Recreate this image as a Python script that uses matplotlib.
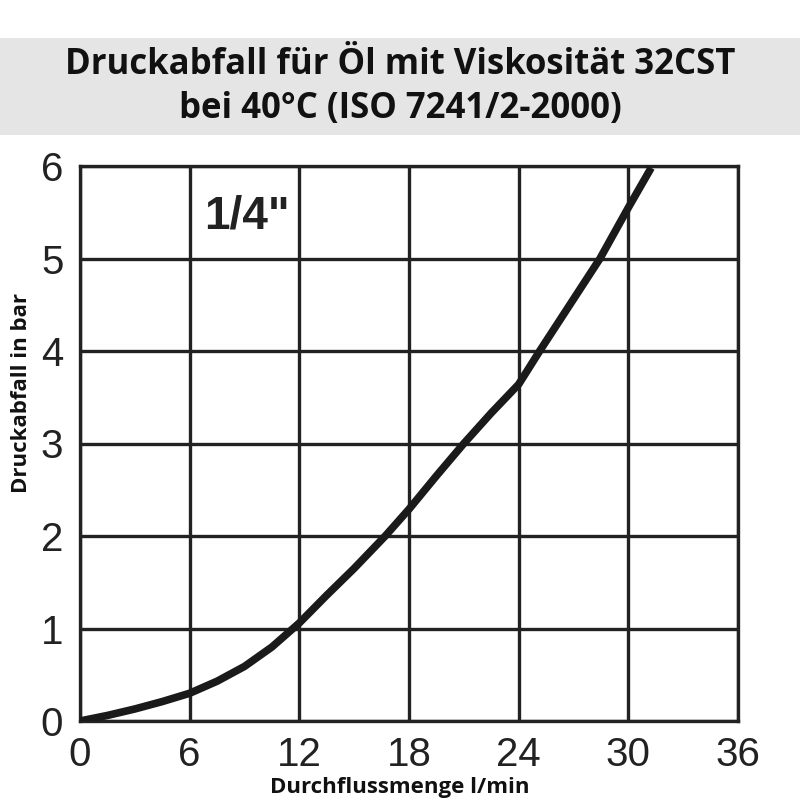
import matplotlib
matplotlib.use("Agg")
import matplotlib.pyplot as plt
from matplotlib.patches import Rectangle

flow = [0, 1.5, 3, 4.5, 6, 7.5, 9, 10.5, 12, 13.5, 15, 16.7, 18, 19.5, 21, 22.5, 24, 25.15, 26.8, 28.45, 30, 31.25]
pressure = [0, 0.06, 0.13, 0.21, 0.30, 0.43, 0.59, 0.80, 1.06, 1.36, 1.65, 2.0, 2.29, 2.65, 3.0, 3.33, 3.64, 4.0, 4.5, 5.0, 5.55, 5.98]
xticks = [0, 6, 12, 18, 24, 30, 36]
yticks = [0, 1, 2, 3, 4, 5, 6]
title_lines = "Druckabfall für Öl mit Viskosität 32CST\nbei 40°C (ISO 7241/2-2000)"
xlabel = "Durchflussmenge l/min"
ylabel = "Druckabfall in bar"
size_label = '1/4"'

fig = plt.figure(figsize=(8, 8), dpi=100)
fig.patches.append(Rectangle((0, 1 - 135/800), 1, (135-38)/800, transform=fig.transFigure,
                             facecolor="#e5e5e5", edgecolor="none", zorder=0))
fig.text(0.5, 1 - 87/800, title_lines, ha="center", va="center", family="Open Sans",
         fontweight="bold", fontsize=25, linespacing=1.28, color="#111111")

ax = fig.add_axes([80/800, 1 - 721/800, (738-80)/800, (721-166)/800])
ax.set_xlim(0, 36)
ax.set_ylim(0, 6)
ax.set_xticks(xticks)
ax.set_yticks(yticks)
ax.set_xticklabels([str(v) for v in xticks], family="Liberation Sans", fontsize=29, color="#222222")
ax.set_yticklabels([str(v) for v in yticks], family="Liberation Sans", fontsize=29, color="#222222")
ax.tick_params(axis="y", length=0, pad=12)
ax.tick_params(axis="x", length=0, pad=11)
ax.grid(True, color="#222222", linewidth=2.4)
ax.set_axisbelow(True)
for s in ax.spines.values():
    s.set_color("#222222")
    s.set_linewidth(2.4)

ax.plot(flow, pressure, color="#1a1a1a", linewidth=5.5, solid_capstyle="butt",
        solid_joinstyle="round", zorder=3)
ax.text(6.8, 5.45, size_label, family="Liberation Sans", fontweight="bold", fontsize=33,
        color="#222222", ha="left", va="center")

fig.text(400/800, 1 - 788/800, xlabel, family="Open Sans", fontweight="bold", fontsize=16,
         ha="center", va="center", color="#111111")
fig.text(22/800, 1 - 393/800, ylabel, family="Open Sans", fontweight="bold", fontsize=16,
         ha="center", va="center", rotation=90, color="#111111")

fig.savefig("out.png", dpi=100)
